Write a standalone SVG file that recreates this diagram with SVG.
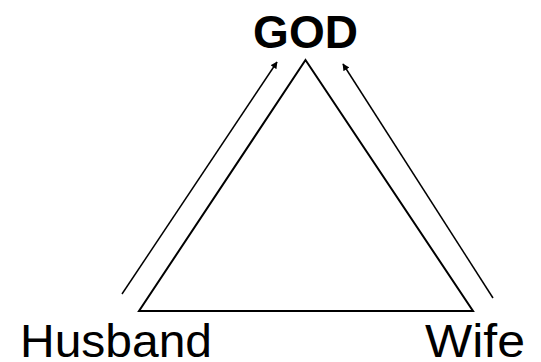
<svg xmlns="http://www.w3.org/2000/svg" width="541" height="362" viewBox="0 0 541 362">
<style>
.t{font-family:"Liberation Sans",Arial,sans-serif;fill:#000}
.e{stroke:#000;stroke-width:1.5;fill:none}
</style>
<defs>
<marker id="ah" viewBox="0 0 10 10" refX="9" refY="5" markerWidth="7" markerHeight="7" markerUnits="userSpaceOnUse" orient="auto">
<path d="M0,0 L10,5 L0,10 z" fill="#000"/>
</marker>
</defs>
<rect width="541" height="362" fill="#fff"/>
<g id="triangle"><path d="M305.5,60 L139,311 L473,311 Z" fill="none" stroke="#000" stroke-width="2" stroke-linejoin="miter"/></g>
<g id="god"><text class="t" x="305.5" y="48" font-size="46" font-weight="bold" text-anchor="middle">GOD</text></g>
<g id="husband"><text class="t" x="20" y="357" font-size="46" textLength="192" lengthAdjust="spacingAndGlyphs">Husband</text></g>
<g id="wife"><text class="t" x="425" y="357" font-size="46" textLength="100" lengthAdjust="spacingAndGlyphs">Wife</text></g>
<g id="connectors">
<line class="e" x1="122" y1="294" x2="277" y2="62" marker-end="url(#ah)"/>
<line class="e" x1="493" y1="298" x2="343" y2="64" marker-end="url(#ah)"/>
</g>
</svg>
